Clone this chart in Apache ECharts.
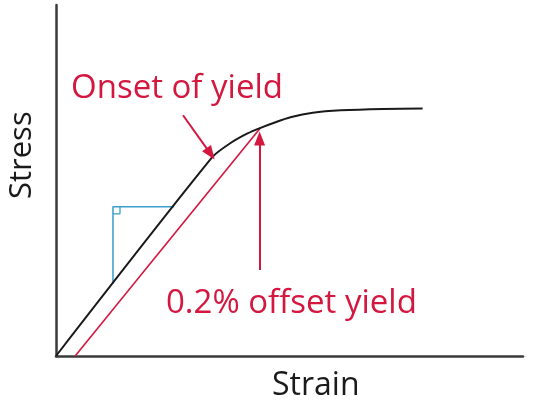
<!DOCTYPE html>
<html>
<head>
<meta charset="utf-8">
<script src="https://cdn.jsdelivr.net/npm/echarts@6/dist/echarts.min.js"></script>
<style>html,body{margin:0;padding:0;background:#fff}#c{width:534px;height:404px}</style>
</head>
<body>
<div id="c"></div>
<script>
// Data (abstract strain / stress units, 0..100)
var blackCurve = [[0,0],[33.5,56.7],[37.3,60.6],[41,63.4],[43.8,65.0],[47,66.6],[50.2,68.0],[55,69.3],[61,70.0],[70,70.4],[78.5,70.5]];
var offsetLine = [[4.1,0],[43.8,65.0]];
var slopeTriangle = [[12.2,20.6],[12.2,42.5],[25.3,42.5]];
var rightAngleMark = [[12.2,40.5],[13.7,40.5],[13.7,42.5]];
var onsetArrow = [[27.2,68.6],[33.1,57.6]];
var offsetArrow = [[43.6,24.5],[43.6,62.0]];
var labels = {x:'Strain', y:'Stress', onset:'Onset of yield', offset:'0.2% offset yield'};

var red = '#d3173f';
var chart = echarts.init(document.getElementById('c'), null, {renderer:'canvas'});
chart.setOption({
  animation:false,
  grid:{left:56, right:11, top:5, bottom:48},
  xAxis:{type:'value', min:0, max:100, axisLine:{show:true, lineStyle:{color:'#3a3a3a', width:2.5}}, axisTick:{show:false}, axisLabel:{show:false}, splitLine:{show:false}},
  yAxis:{type:'value', min:0, max:100, axisLine:{show:true, lineStyle:{color:'#3a3a3a', width:2.5}}, axisTick:{show:false}, axisLabel:{show:false}, splitLine:{show:false}},
  series:[
    {type:'line', data:slopeTriangle, symbol:'none', lineStyle:{color:'#3a9ec9', width:1.5}},
    {type:'line', data:rightAngleMark, symbol:'none', lineStyle:{color:'#3a9ec9', width:1.3}},
    {type:'line', data:offsetLine, symbol:'none', lineStyle:{color:red, width:1.6}},
    {type:'line', data:blackCurve, symbol:'none', smooth:0.25, lineStyle:{color:'#1a1a1a', width:2}},
    {type:'line', data:[], symbol:'none',
      markLine:{silent:true, symbol:['none','triangle'], symbolSize:[11,14], label:{show:false},
        lineStyle:{color:red, width:2, type:'solid'},
        data:[
          [{coord:onsetArrow[0]},{coord:onsetArrow[1]}],
          [{coord:offsetArrow[0]},{coord:offsetArrow[1]}]
        ]}
    }
  ],
  graphic:[
    {type:'text', x:71, y:72, style:{text:labels.onset, fill:red, font:'33px "Open Sans"'}},
    {type:'text', x:166, y:287, style:{text:labels.offset, fill:red, font:'33px "Open Sans"'}},
    {type:'text', x:272, y:370, style:{text:labels.x, fill:'#1a1a1a', font:'32px "Open Sans"'}},
    {type:'text', x:7, y:199, rotation:Math.PI/2, style:{text:labels.y, fill:'#1a1a1a', font:'31px "Open Sans"'}}
  ]
});
</script>
</body>
</html>
